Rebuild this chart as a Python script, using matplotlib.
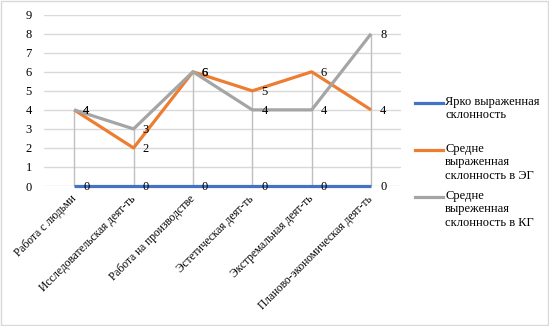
import matplotlib.pyplot as plt
from matplotlib.lines import Line2D
from matplotlib.patches import Rectangle

plt.rcParams["font.family"] = ["Liberation Serif", "DejaVu Serif"]
plt.rcParams["font.size"] = 9

categories = ["Работа с людьми", "Исследовательская деят-ть", "Работа на производстве",
              "Эстетическая деят-ть", "Экстремальная деят-ть", "Планово-экономическая деят-ть"]
bright = [0, 0, 0, 0, 0, 0]
mid_eg = [4, 2, 6, 5, 6, 4]
mid_kg = [4, 3, 6, 4, 4, 8]
series_names = ["Ярко выраженная\nсклонность",
                "Средне\nвыраженная\nсклонность в ЭГ",
                "Средне\nвыреженная\nсклонность в КГ"]
colors = ["#4472C4", "#ED7D31", "#A5A5A5"]

fig = plt.figure(figsize=(5.49, 3.26), dpi=100)
ax = fig.add_axes([0.081, 0.4294, 0.649, 0.5255])

x = list(range(len(categories)))

# grid
ax.set_ylim(0, 9)
ax.set_xlim(-0.5, len(categories) - 0.5)
ax.set_yticks(range(10))
ax.yaxis.grid(True, color="#D9D9D9", lw=1)
ax.set_axisbelow(True)
for s in ax.spines.values():
    s.set_visible(False)
ax.tick_params(axis="y", length=0, pad=9)
ax.tick_params(axis="x", length=0, pad=8, labelsize=8.3)

# drop lines
tops = [max(a, b, c) for a, b, c in zip(bright, mid_eg, mid_kg)]
ax.vlines(x, 0, tops, color="#BFBFBF", lw=1, zorder=1)

for ys, c in zip([bright, mid_eg, mid_kg], colors):
    ax.plot(x, ys, color=c, lw=2.3, zorder=3, solid_capstyle="butt", clip_on=False)
    for xi, yi in zip(x, ys):
        ax.annotate(str(yi), (xi, yi), xytext=(9, -1), textcoords="offset pixels",
                    ha="left", va="center", zorder=4)

ax.set_xticks(x)
ax.set_xticklabels(categories, rotation=45, ha="right", va="center", rotation_mode="anchor")

# legend drawn by hand, handle on first text line like in the original
leg_y = [1 - 103 / 326, 1 - 150 / 326, 1 - 197 / 326]
for name, c, ly in zip(series_names, colors, leg_y):
    fig.add_artist(Line2D([415 / 549, 443 / 549], [ly, ly], color=c, lw=2.3))
    fig.text(445 / 549, ly + 7 / 326, name, ha="left", va="top", linespacing=1.15)

fig.add_artist(Rectangle((0.001, 0.002), 0.997, 0.995, transform=fig.transFigure,
                         fill=False, edgecolor="#D9D9D9", lw=1))

fig.savefig("out.png", dpi=100)
